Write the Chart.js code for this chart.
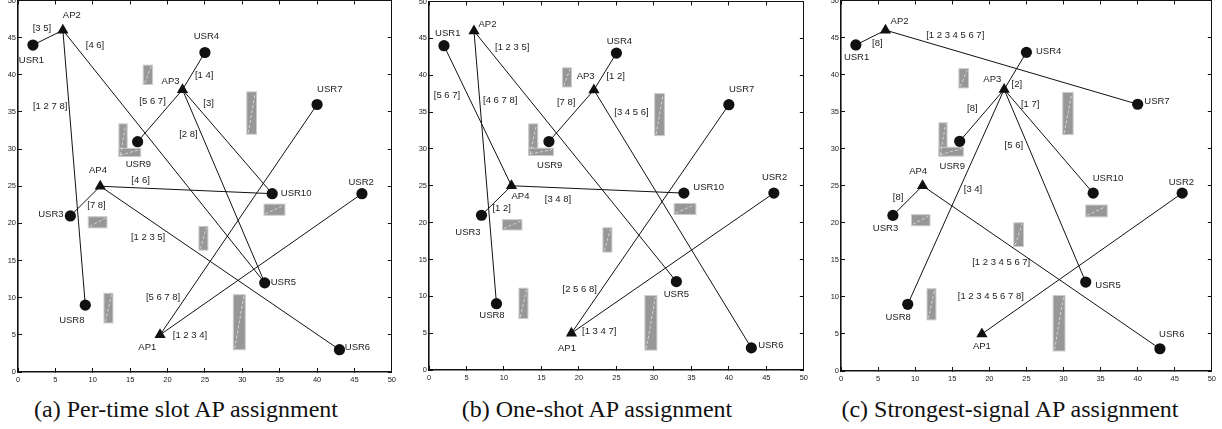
<!DOCTYPE html>
<html>
<head>
<meta charset="utf-8">
<title>AP assignment</title>
<script src="https://cdn.jsdelivr.net/npm/chart.js@4.4.1/dist/chart.umd.min.js"></script>
<style>
  body { margin: 0; background: #fff; }
  #fig { position: relative; width: 1222px; height: 429px; overflow: hidden; }
  .pane { position: absolute; }
  .cap { position: absolute; top: 397px; font: 24px "Liberation Serif", "Times New Roman", serif; line-height: 24px; color: #111; white-space: nowrap; transform: translateX(-50%); }
</style>
</head>
<body>
<div id="fig">
  <canvas id="chartA" class="pane" width="403" height="396" style="left:0;top:-10px"></canvas>
  <canvas id="chartB" class="pane" width="404" height="393" style="left:411px;top:-9px"></canvas>
  <canvas id="chartC" class="pane" width="400" height="395" style="left:823px;top:-10px"></canvas>
  <div class="cap" style="left:186px">(a) Per-time slot AP assignment</div>
  <div class="cap" style="left:597px">(b) One-shot AP assignment</div>
  <div class="cap" style="left:1010px">(c) Strongest-signal AP assignment</div>
</div>
<script>
// node positions (same in all three panels)
const apNames = ['AP1', 'AP2', 'AP3', 'AP4'];
const apX = [19, 6, 22, 11];
const apY = [5, 46, 38, 25];
const usrNames = ['USR1', 'USR2', 'USR3', 'USR4', 'USR5', 'USR6', 'USR7', 'USR8', 'USR9', 'USR10'];
const usrX = [2, 46, 7, 25, 33, 43, 40, 9, 16, 34];
const usrY = [44, 24, 21, 43, 12, 3, 36, 9, 31, 24];
const tickValues = [0, 5, 10, 15, 20, 25, 30, 35, 40, 45, 50];

// (a) per-time slot
const linksA = [['AP2','USR1'],['AP2','USR8'],['AP2','USR5'],['AP3','USR4'],['AP3','USR9'],['AP3','USR10'],
                ['AP3','USR5'],['AP4','USR10'],['AP4','USR3'],['AP4','USR6'],['AP1','USR7'],['AP1','USR2']];
const slotsA = ['[3 5]','[1 2 7 8]','[4 6]','[1 4]','[5 6 7]','[3]','[2 8]','[4 6]','[7 8]','[1 2 3 5]','[5 6 7 8]','[1 2 3 4]'];
// (b) one-shot
const linksB = [['AP4','USR1'],['AP2','USR8'],['AP2','USR5'],['AP3','USR4'],['AP3','USR9'],['AP3','USR6'],
                ['AP4','USR10'],['AP4','USR3'],['AP1','USR7'],['AP1','USR2']];
const slotsB = ['[5 6 7]','[4 6 7 8]','[1 2 3 5]','[1 2]','[7 8]','[3 4 5 6]','[3 4 8]','[1 2]','[2 5 6 8]','[1 3 4 7]'];
// (c) strongest signal
const linksC = [['AP2','USR1'],['AP2','USR7'],['AP3','USR4'],['AP3','USR9'],['AP3','USR10'],['AP3','USR5'],
                ['AP3','USR8'],['AP4','USR3'],['AP4','USR6'],['AP1','USR2']];
const slotsC = ['[8]','[1 2 3 4 5 6 7]','[2]','[8]','[1 7]','[5 6]','[3 4]','[8]','[1 2 3 4 5 6 7]','[1 2 3 4 5 6 7 8]'];

// obstacles [x0, x1, y0, y1]
const blocksA = [[16.75,18.0,38.7,41.3],[30.6,31.9,32.0,37.7],[13.5,14.6,29.0,33.4],[13.5,16.4,29.0,30.1],[32.9,35.7,21.1,22.6],
                 [9.4,11.9,19.4,20.9],[24.2,25.4,16.4,19.6],[11.5,12.7,6.6,10.6],[28.8,30.4,3.0,10.4]];
const blocksB = [[17.8,19.0,38.4,41.0],[30.1,31.4,31.8,37.5],[13.3,14.5,29.1,33.4],[13.3,16.6,29.1,30.1],[32.7,35.6,21.1,22.6],
                 [9.8,12.4,19.0,20.4],[23.2,24.4,16.0,19.3],[12.0,13.2,7.0,11.1],[28.8,30.4,2.7,10.1]];
const blocksC = [[15.9,17.2,38.2,40.8],[29.9,31.3,31.9,37.6],[13.2,14.3,29.0,33.5],[13.2,16.5,29.0,30.2],[33.0,35.9,20.8,22.4],
                 [9.5,12.0,19.6,21.1],[23.3,24.6,16.8,20.0],[11.6,12.8,6.9,11.1],[28.6,30.2,2.7,10.2]];

// text placement (data coords): slot labels per link, then node labels AP1..AP4, USR1..USR10
const slotPosA = [[3.2,46.2],[4.3,35.8],[10.3,44],[24.9,39.9],[18,36.4],[25.5,36.2],[22.8,32],[16.4,25.8],[10.5,22.4],[17.4,18.1],[19.4,10.1],[23,4.9]];
const namePosA = [[17.3,3.3],[7.2,48],[20.4,39.1],[10.7,27.2],[1.8,41.9],[45.9,25.5],[4.4,21.2],[25.2,45.2],[35.5,12.1],[45.4,3.3],[41.7,38.1],[7.2,6.9],[16.1,28],[37.2,24.1]];
const slotPosB = [[2.4,37.3],[9.5,36.6],[11.1,43.8],[24.9,39.8],[18.3,36.3],[27,34.9],[17.2,23.2],[9.7,21.9],[20.1,11],[22.7,5.3]];
const namePosB = [[18.4,2.9],[7.8,46.9],[20.9,39.8],[12.2,23.6],[2.5,45.7],[46.1,26.2],[5.2,18.7],[25.4,44.6],[33,10.3],[45.6,3.4],[41.7,38.1],[8.4,7.4],[16.1,27.8],[37.3,24.8]];
const slotPosC = [[4.9,44.2],[15.4,45.3],[23.7,38.7],[17.7,35.5],[25.5,36],[23.3,30.4],[17.8,24.5],[7.7,23.4],[21.6,14.6],[20.2,10.1]];
const namePosC = [[19,3.3],[7.9,47.2],[20.4,39.3],[10.4,26.9],[2.1,42.3],[45.9,25.5],[6,19.2],[28,43.2],[36,11.6],[44.6,5],[42.6,36.4],[7.7,7.3],[15,27.6],[36,26]];

function nodePoint(name) {
  let i = apNames.indexOf(name);
  if (i >= 0) return {x: apX[i], y: apY[i]};
  i = usrNames.indexOf(name);
  return {x: usrX[i], y: usrY[i]};
}

const tickFont = {family: '"Liberation Sans", Arial, sans-serif', size: 7.5};
const fixTicks = s => { s.ticks = tickValues.map(v => ({value: v})); };

// matlab style box: every side has a border and inward tick marks
function boxAxis(position, showLabels, width, size) {
  const horiz = position === 'bottom' || position === 'top';
  return {
    type: 'linear', position, min: 0, max: 50,
    grid: {drawOnChartArea: false, drawTicks: true, tickLength: -4, color: '#111', lineWidth: 1},
    border: {display: true, color: '#111', width},
    afterBuildTicks: fixTicks,
    ticks: {display: showLabels, color: '#222', font: tickFont, padding: horiz ? 7 : 6, maxRotation: 0, autoSkip: false},
    afterFit: s => { if (horiz) s.height = size; else s.width = size; }
  };
}

function makePanel(id, links, slots, slotPos, namePos, blocks) {
  const datasets = links.map(([a, u]) => ({
    type: 'line',
    data: [nodePoint(a), nodePoint(u)],
    borderColor: '#111',
    borderWidth: 1,
    pointRadius: 0,
    fill: false
  }));
  datasets.push({
    data: apX.map((v, i) => ({x: v, y: apY[i]})),
    pointStyle: 'triangle', pointRadius: 6.5,
    backgroundColor: '#111', borderColor: '#111', borderWidth: 0
  });
  datasets.push({
    data: usrX.map((v, i) => ({x: v, y: usrY[i]})),
    pointStyle: 'circle', pointRadius: 5.6,
    backgroundColor: '#111', borderColor: '#111', borderWidth: 0
  });

  const blockPlugin = {
    id: 'blocks',
    beforeDatasetsDraw(chart) {
      const {ctx, scales: {x, y}} = chart;
      ctx.save();
      blocks.forEach(([x0, x1, y0, y1]) => {
        const l = x.getPixelForValue(x0), r = x.getPixelForValue(x1);
        const t = y.getPixelForValue(y1), b = y.getPixelForValue(y0);
        ctx.fillStyle = '#979797';
        ctx.fillRect(l, t, r - l, b - t);
        ctx.strokeStyle = '#cccccc';
        ctx.lineWidth = 1;
        ctx.strokeRect(l, t, r - l, b - t);
      });
      ctx.strokeStyle = '#d6d6d6';
      ctx.setLineDash([3, 2]);
      blocks.forEach(([x0, x1, y0, y1]) => {
        ctx.beginPath();
        ctx.moveTo(x.getPixelForValue(x0) + 1.5, y.getPixelForValue(y0) - 1.5);
        ctx.lineTo(x.getPixelForValue(x1) - 1.5, y.getPixelForValue(y1) + 1.5);
        ctx.stroke();
      });
      ctx.restore();
    }
  };

  const textPlugin = {
    id: 'texts',
    afterDatasetsDraw(chart) {
      const {ctx, scales: {x, y}} = chart;
      ctx.save();
      ctx.font = '9.5px "Liberation Sans", Arial, sans-serif';
      ctx.fillStyle = '#222';
      ctx.textAlign = 'center';
      ctx.textBaseline = 'middle';
      slots.forEach((s, i) => ctx.fillText(s, x.getPixelForValue(slotPos[i][0]), y.getPixelForValue(slotPos[i][1])));
      apNames.concat(usrNames).forEach((n, i) => ctx.fillText(n, x.getPixelForValue(namePos[i][0]), y.getPixelForValue(namePos[i][1])));
      ctx.restore();
    }
  };

  new Chart(document.getElementById(id), {
    type: 'scatter',
    data: {datasets},
    options: {
      responsive: false,
      animation: false,
      layout: {padding: {top: 6, right: 8, bottom: 0, left: 0}},
      plugins: {legend: {display: false}, tooltip: {enabled: false}},
      scales: {
        x: boxAxis('bottom', true, 1.6, 14),
        y: boxAxis('left', true, 1.6, 18),
        x2: boxAxis('top', false, 1, 0),
        y2: boxAxis('right', false, 1, 0)
      }
    },
    plugins: [blockPlugin, textPlugin]
  });
}

makePanel('chartA', linksA, slotsA, slotPosA, namePosA, blocksA);
makePanel('chartB', linksB, slotsB, slotPosB, namePosB, blocksB);
makePanel('chartC', linksC, slotsC, slotPosC, namePosC, blocksC);
</script>
</body>
</html>
